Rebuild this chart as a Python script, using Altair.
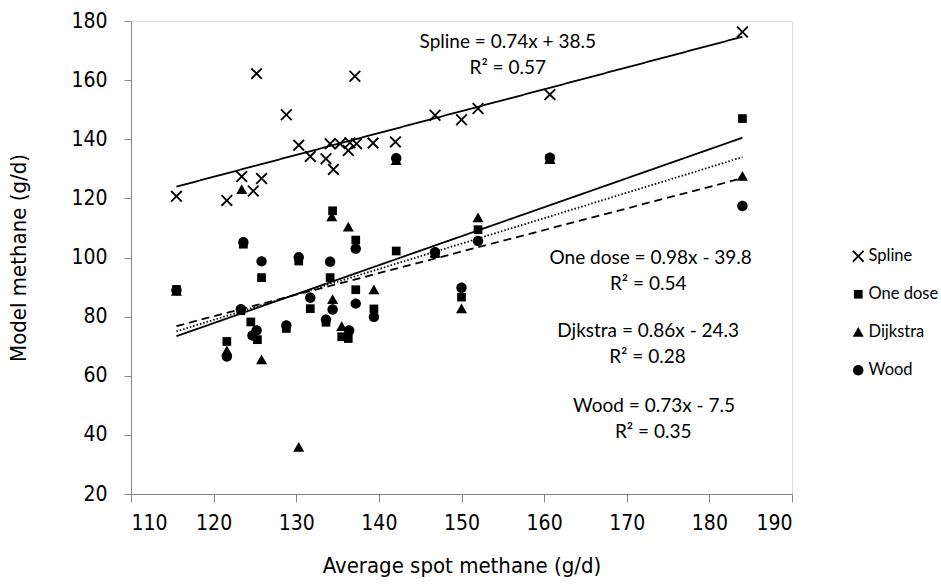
import altair as alt
import pandas as pd

# ---- data ----
series_names = ["Spline", "One dose", "Dijkstra", "Wood"]

spline_x = [115.5, 121.6, 123.4, 124.8, 125.2, 125.8, 128.8, 130.3, 131.7, 133.6, 134.1, 134.5,
            135.3, 136.3, 136.5, 137.1, 137.3, 139.3, 142.0, 146.8, 150.0, 152.0, 160.7, 184.0]
spline_y = [120.7, 119.3, 127.4, 122.5, 162.2, 126.7, 148.3, 138.0, 134.2, 133.4, 138.5, 129.8,
            138.5, 136.2, 138.8, 161.3, 138.5, 138.7, 139.1, 148.1, 146.6, 150.4, 155.1, 176.3]

onedose_x = [115.5, 121.6, 123.3, 123.6, 124.5, 125.3, 125.8, 128.8, 130.3, 131.7, 133.6, 134.1,
             134.4, 135.5, 136.3, 137.2, 137.2, 139.4, 142.1, 146.8, 150.0, 152.0, 160.7, 184.0]
onedose_y = [89.2, 71.6, 82.0, 104.5, 78.2, 72.2, 93.2, 76.0, 98.8, 82.7, 78.1, 93.2,
             115.8, 73.2, 72.6, 105.9, 89.1, 82.6, 102.2, 101.3, 86.6, 109.4, 133.5, 147.0]

dijkstra_x = [115.5, 121.6, 123.4, 125.8, 130.3, 134.3, 134.4, 135.5, 136.3, 139.4, 142.1,
              146.8, 150.0, 152.0, 160.7, 184.0]
dijkstra_y = [88.6, 68.5, 123.0, 65.4, 35.8, 113.8, 85.8, 76.7, 110.3, 89.1, 132.8,
              101.5, 82.7, 113.5, 133.2, 127.5]

wood_x = [115.5, 121.6, 123.3, 123.6, 124.7, 125.2, 125.8, 128.8, 130.3, 131.7, 133.6, 134.1,
          134.4, 136.4, 137.2, 137.2, 139.4, 142.1, 146.8, 150.0, 152.0, 160.7, 184.0]
wood_y = [88.9, 66.5, 82.5, 105.2, 73.6, 75.3, 98.7, 77.0, 100.1, 86.4, 79.0, 98.6,
          82.4, 75.3, 103.0, 84.4, 79.9, 133.6, 101.8, 89.8, 105.6, 133.8, 117.4]

# trendline equations as printed on the chart
trend_slope = [0.74, 0.98, 0.86, 0.73]
trend_intercept = [38.5, -39.8, -24.3, -7.5]

ann_text = ["Spline = 0.74x + 38.5", "R² = 0.57",
            "One dose = 0.98x - 39.8", "R² = 0.54",
            "Djkstra = 0.86x - 24.3", "R² = 0.28",
            "Wood = 0.73x - 7.5", "R² = 0.35"]
ann_x = [155.6, 155.6, 172.9, 172.6, 172.6, 172.5, 173.3, 173.2]
ann_y = [172.8, 164.0, 99.7, 91.2, 75.0, 66.5, 49.9, 41.1]

# ---- tables ----
rows = []
for name, xs, ys in [("Spline", spline_x, spline_y), ("One dose", onedose_x, onedose_y),
                     ("Dijkstra", dijkstra_x, dijkstra_y), ("Wood", wood_x, wood_y)]:
    for xv, yv in zip(xs, ys):
        rows.append({"series": name, "x": xv, "y": yv})
pts = pd.DataFrame(rows)

x_lo, x_hi = min(spline_x), max(spline_x)
trows = []
for name, m, b in zip(series_names, trend_slope, trend_intercept):
    for xv in (x_lo, x_hi):
        trows.append({"series": name, "x": xv, "y": m * xv + b})
trend = pd.DataFrame(trows)

ann = pd.DataFrame({"text": ann_text, "x": ann_x, "y": ann_y})

narrow = "Liberation Sans Narrow, Arial Narrow, DejaVu Sans Condensed, Liberation Sans, sans-serif"
calib = "Lato, Open Sans, sans-serif"
grey = "#868686"

xscale = alt.Scale(domain=[110, 190], nice=False, zero=False)
yscale = alt.Scale(domain=[20, 180], nice=False, zero=False)

# marker outlines (unit coordinates, drawn at a fixed symbol size)
e, a = 0.92, 0.2
x_shape = (f"M{-e},{-e + a}L{-e + a},{-e}L0,{-a}L{e - a},{-e}L{e},{-e + a}L{a},0"
           f"L{e},{e - a}L{e - a},{e}L0,{a}L{-e + a},{e}L{-e},{e - a}L{-a},0Z")
sq_shape = "M-0.67,-0.67L0.67,-0.67L0.67,0.67L-0.67,0.67Z"
tri_shape = "M0,-0.8L0.85,0.7L-0.85,0.7Z"
circ_shape = "M-0.8,0A0.8,0.8 0 1,0 0.8,0A0.8,0.8 0 1,0 -0.8,0Z"
shapes = [x_shape, sq_shape, tri_shape, circ_shape]

leg = alt.Legend(orient="none", legendX=719, legendY=227, title=None,
                 labelFont=calib, labelFontSize=16.5, labelColor="black",
                 rowPadding=21, labelOffset=2, symbolSize=169,
                 symbolFillColor="black", symbolStrokeColor="black",
                 symbolStrokeWidth=0)

points = alt.Chart(pts).mark_point(
    filled=True, opacity=1, color="black", size=169, strokeWidth=0
).encode(
    x=alt.X("x:Q", scale=xscale,
            axis=alt.Axis(values=list(range(110, 191, 10)), title="Average spot methane (g/d)",
                          tickSize=8, labelPadding=10, titlePadding=22,
                          domainColor=grey, tickColor=grey, grid=False,
                          labelFont=narrow, labelFontSize=21, labelColor="black",
                          titleFont=narrow, titleFontSize=22, titleFontWeight="normal",
                          titleColor="black")),
    y=alt.Y("y:Q", scale=yscale,
            axis=alt.Axis(values=list(range(20, 181, 20)), title="Model methane (g/d)",
                          tickSize=7, labelPadding=17, titlePadding=40,
                          domainColor=grey, tickColor=grey, grid=False,
                          labelFont=narrow, labelFontSize=21, labelColor="black",
                          titleFont=narrow, titleFontSize=22, titleFontWeight="normal",
                          titleColor="black")),
    shape=alt.Shape("series:N", scale=alt.Scale(domain=series_names, range=shapes), legend=leg),
)

lines = alt.Chart(trend).mark_line(color="black", strokeWidth=1.8).encode(
    x=alt.X("x:Q", scale=xscale),
    y=alt.Y("y:Q", scale=yscale),
    detail="series:N",
    strokeDash=alt.StrokeDash("series:N",
                              scale=alt.Scale(domain=series_names,
                                              range=[[1, 0], [1, 0], [1.5, 2], [8, 5]]),
                              legend=None),
)

texts = alt.Chart(ann).mark_text(font=calib, fontSize=19, color="black").encode(
    x=alt.X("x:Q", scale=xscale),
    y=alt.Y("y:Q", scale=yscale),
    text="text:N",
)

chart = alt.layer(points, lines, texts).properties(
    width=661, height=473,
    autosize=alt.AutoSizeParams(type="none"),
    padding={"left": 131, "top": 21, "right": 149, "bottom": 91},
).configure_view(stroke=None).configure(background="white")

chart.save("out.html", embed_options={"renderer": "svg", "actions": False})
